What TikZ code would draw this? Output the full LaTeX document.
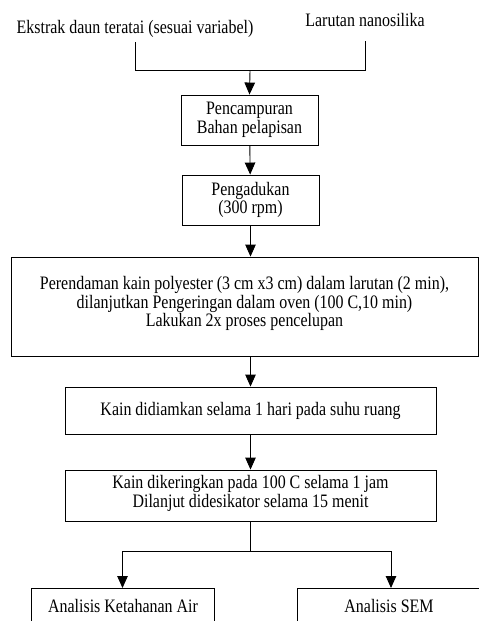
\documentclass[tikz,border=0pt]{standalone}
\usepackage{fontspec}
\setmainfont{Liberation Serif}[FakeStretch=0.84]
\usetikzlibrary{arrows.meta}
\begin{document}
\begin{tikzpicture}[x=1pt,y=-1pt,
  box/.style={draw,line width=0.9pt,align=center,inner sep=0pt,font=\fontsize{19}{18.5}\selectfont},
  lbl/.style={inner sep=0pt,font=\fontsize{19}{18.5}\selectfont},
  conn/.style={line width=0.9pt},
  arr/.style={conn,-{Triangle[width=10.5pt,length=12pt]}}]
\useasboundingbox (0,0) rectangle (479,621);
\node[lbl,anchor=base] (src1) at (135,33) {Ekstrak daun teratai (sesuai variabel)};
\node[lbl,anchor=base] (src2) at (365,27) {Larutan nanosilika};
\coordinate (join) at (250,70.5);
\node[box,minimum width=137,minimum height=50] (b1) at (249.5,120) {Pencampuran\\Bahan pelapisan};
\node[box,minimum width=137,minimum height=50] (b2) at (250.5,200) {Pengadukan\\(300 rpm)};
\node[box,minimum width=467,minimum height=99,text depth=10pt] (b3) at (244.5,306.5) {Perendaman kain polyester (3 cm x3 cm) dalam larutan (2 min),\\dilanjutkan Pengeringan dalam oven (100 C,10 min)\\Lakukan 2x proses pencelupan};
\node[box,minimum width=371,minimum height=47] (b4) at (250.5,410.5) {Kain didiamkan selama 1 hari pada suhu ruang};
\node[box,minimum width=371,minimum height=51,text depth=8pt] (b5) at (250.5,495.5) {Kain dikeringkan pada 100 C selama 1 jam\\Dilanjut didesikator selama 15 menit};
\node[box,minimum width=183,minimum height=40,anchor=north] (b6) at (122.5,588) {};
\node[lbl,anchor=base] (t6) at (123,612) {Analisis Ketahanan Air};
\node[box,minimum width=200,minimum height=40,anchor=north west] (b7) at (297,588) {};
\node[lbl,anchor=base] (t7) at (389,612) {Analisis SEM};
\coordinate (split) at (250.5,551);
\draw[conn] ([yshift=-5]src1.south) |- (join);
\draw[conn] ([yshift=-14]src2.south) |- (join);
\draw[arr] (join) -- (b1.north);
\draw[arr] (b1) -- (b2);
\draw[arr] (b2.south) -- (b2.south |- b3.north);
\draw[arr] (b3.south -| b4.north) -- (b4.north);
\draw[arr] (b4) -- (b5);
\draw[conn] (b5.south) -- (split);
\draw[arr] (split) -| (b6.north);
\draw[arr] (split) -| (391,588);
\end{tikzpicture}
\end{document}
